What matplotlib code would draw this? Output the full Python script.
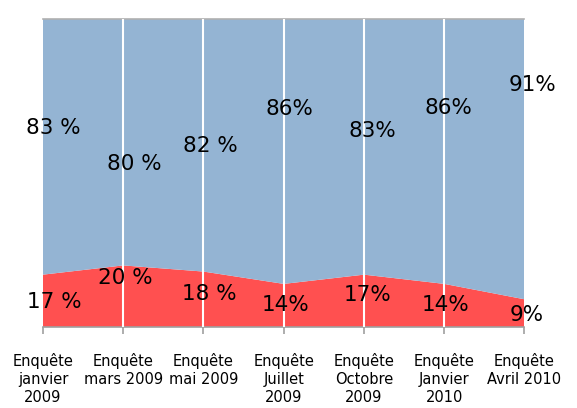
import matplotlib
matplotlib.use("Agg")
import matplotlib.pyplot as plt
import numpy as np

categories = ["Enquête\njanvier\n2009", "Enquête\nmars 2009", "Enquête\nmai 2009",
              "Enquête\nJuillet\n2009", "Enquête\nOctobre\n2009", "Enquête\nJanvier\n2010",
              "Enquête\nAvril 2010"]
red_vals = [17, 20, 18, 14, 17, 14, 9]
blue_vals = [83, 80, 82, 86, 83, 86, 91]
red_labels = ["17 %", "20 %", "18 %", "14%", "17%", "14%", "9%"]
blue_labels = ["83 %", "80 %", "82 %", "86%", "83%", "86%", "91%"]

# label placement (x offset in category units, y in percent)
red_lab_dx = [0.14, 0.03, 0.07, 0.02, 0.04, 0.02, 0.03]
red_lab_y = [8.1, 15.9, 10.7, 7.1, 10.4, 7.1, 3.9]
blue_lab_dx = [0.125, 0.134, 0.09, 0.07, 0.11, 0.05, 0.10]
blue_lab_y = [64.6, 52.9, 58.8, 70.8, 63.6, 71.1, 78.6]

RED = "#FF5050"
BLUE = "#94B4D3"

fig = plt.figure(figsize=(5.77, 4.08), dpi=100)
ax = fig.add_axes([0.0745, 0.1985, 0.8345, 0.7549])

x = np.arange(len(categories))
ax.stackplot(x, red_vals, blue_vals, colors=[RED, BLUE], linewidth=0)
ax.set_xlim(0, len(categories) - 1)
ax.set_ylim(0, 100)

for xi in x[1:-1]:
    ax.axvline(xi, color="white", lw=1.5, zorder=3)

for spine in ["left", "right"]:
    ax.spines[spine].set_visible(False)
ax.spines["top"].set_color("#B0B0B0")
ax.spines["top"].set_linewidth(1.2)
ax.spines["bottom"].set_color("#A0A0A0")
ax.spines["bottom"].set_linewidth(1.2)

ax.set_yticks([])
ax.set_xticks(x)
ax.set_xticklabels(categories, fontsize=10.5, linespacing=1.25)
ax.tick_params(axis="x", direction="out", length=5, width=1.2, color="#A0A0A0", pad=14)

for i in range(len(categories)):
    ax.text(x[i] + red_lab_dx[i], red_lab_y[i], red_labels[i], ha="center", va="center",
            fontsize=15.5, color="black", zorder=5)
    ax.text(x[i] + blue_lab_dx[i], blue_lab_y[i], blue_labels[i], ha="center", va="center",
            fontsize=15.5, color="black", zorder=5)

fig.savefig("out.png", dpi=100)
